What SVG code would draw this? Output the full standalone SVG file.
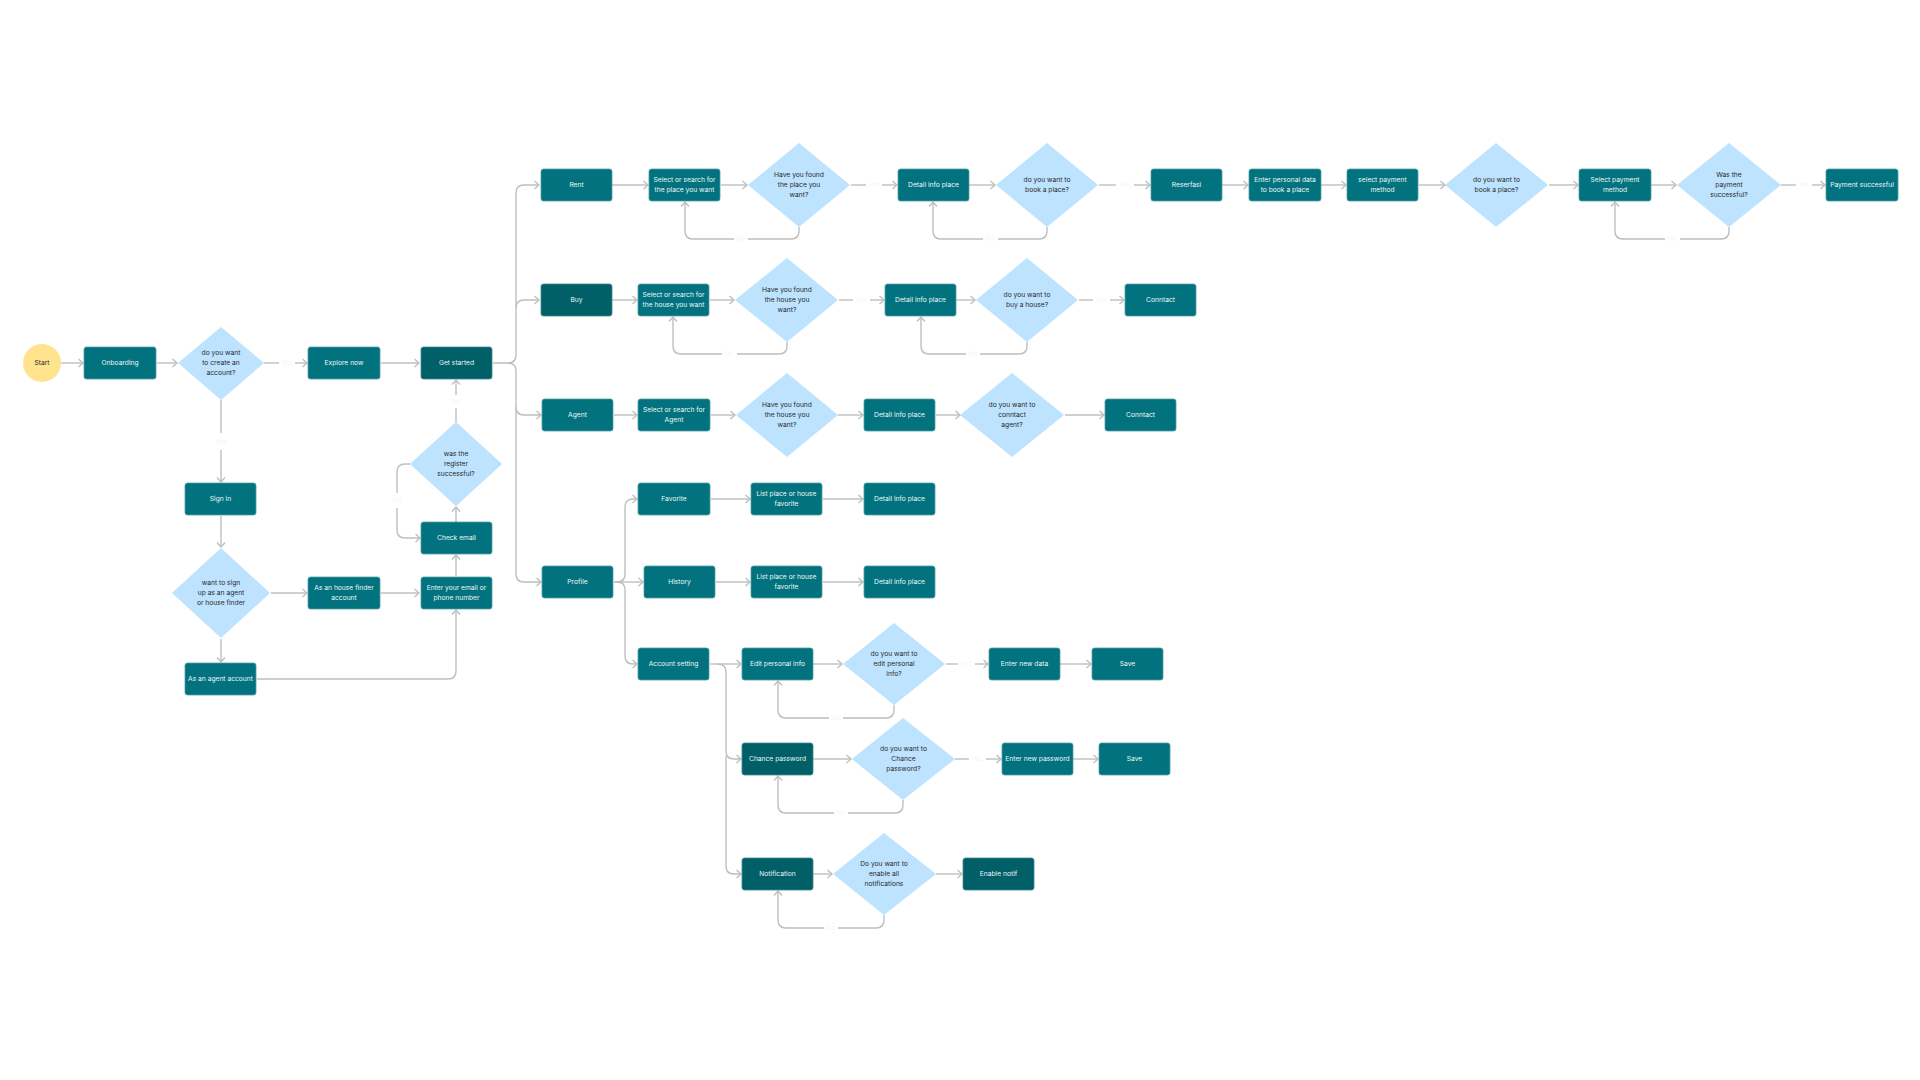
<svg xmlns="http://www.w3.org/2000/svg" width="1920" height="1080" viewBox="0 0 1920 1080">
<style>
text{font-family:Inter,"Liberation Sans",sans-serif;font-size:6.7px;text-anchor:middle;dominant-baseline:central}
.b rect{fill:#02737E;stroke:#4E9EA6;stroke-width:0.8}
.k rect{fill:#005F67;stroke:#3F8B92;stroke-width:0.8}
.b text,.k text{fill:#EEF6F7}
.d polygon{fill:#BDE3FF}
.d text{fill:#2A2A2A}
.c path{fill:none;stroke:#BFBFBF;stroke-width:1.4}
.c path.a{marker-end:url(#ar)}
.lb{fill:#F8F5F5;font-size:6.5px}
</style>
<defs>
<marker id="ar" markerUnits="userSpaceOnUse" markerWidth="12" markerHeight="12" refX="5.5" refY="5" orient="auto">
<path d="M1,1 L5.5,5 L1,9" fill="none" stroke="#BFBFBF" stroke-width="1.4"/>
</marker>
</defs>
<rect width="1920" height="1080" fill="#FFFFFF"/>

<g class="c" id="connectors">
<!-- left -->
<path class="a" d="M61,363 H83"/>
<path class="a" d="M157,363 H177"/>
<path d="M264,363 H279"/>
<path class="a" d="M295,363 H307"/>
<path class="a" d="M381,363 H419"/>
<path d="M221,400 V433"/>
<path class="a" d="M221,450 V482"/>
<path class="a" d="M221,516 V547"/>
<path class="a" d="M271,593 H307"/>
<path class="a" d="M381,593 H419"/>
<path class="a" d="M221,639 V662"/>
<path class="a" d="M257,679 H448 Q456,679 456,671 V610"/>
<path class="a" d="M456,576 V555"/>
<path class="a" d="M456,522 V507"/>
<path d="M456,422 V408"/>
<path class="a" d="M456,395 V380"/>
<path d="M410,464 H405 Q397,464 397,472 V493"/>
<path class="a" d="M397,508 V530 Q397,538 405,538 H420"/>
<!-- trunk from Get started -->
<path class="a" d="M493,363 H508 Q516,363 516,355 V193 Q516,185 524,185 H539"/>
<path class="a" d="M516,308 Q516,300 524,300 H539"/>
<path class="a" d="M508,363 Q516,363 516,371 V574 Q516,582 524,582 H541"/>
<path class="a" d="M516,407 Q516,415 524,415 H541"/>
<!-- rent row -->
<path class="a" d="M612,185 H648"/>
<path class="a" d="M721,185 H747"/>
<path d="M851,185 H866"/>
<path class="a" d="M882,185 H897"/>
<path d="M799,227 V231 Q799,239 791,239 H748"/>
<path class="a" d="M734,239 H693 Q685,239 685,231 V202"/>
<path class="a" d="M969,185 H995"/>
<path d="M1099,185 H1116"/>
<path class="a" d="M1134,185 H1150"/>
<path d="M1047,227 V231 Q1047,239 1039,239 H998"/>
<path class="a" d="M983,239 H941 Q933,239 933,231 V202"/>
<path class="a" d="M1222,185 H1248"/>
<path class="a" d="M1321,185 H1346"/>
<path class="a" d="M1419,185 H1445"/>
<path class="a" d="M1549,185 H1578"/>
<path class="a" d="M1651,185 H1676"/>
<path d="M1781,185 H1796"/>
<path class="a" d="M1812,185 H1825"/>
<path d="M1729,227 V231 Q1729,239 1721,239 H1680"/>
<path class="a" d="M1665,239 H1623 Q1615,239 1615,231 V202"/>
<!-- buy row -->
<path class="a" d="M612,300 H637"/>
<path class="a" d="M710,300 H734"/>
<path d="M839,300 H853"/>
<path class="a" d="M870,300 H884"/>
<path d="M787,342 V346 Q787,354 779,354 H737"/>
<path class="a" d="M722,354 H681 Q673,354 673,346 V317"/>
<path class="a" d="M956,300 H975"/>
<path d="M1079,300 H1093"/>
<path class="a" d="M1110,300 H1124"/>
<path d="M1027,342 V346 Q1027,354 1019,354 H980"/>
<path class="a" d="M966,354 H929 Q921,354 921,346 V317"/>
<!-- agent row -->
<path class="a" d="M614,415 H637"/>
<path class="a" d="M711,415 H735"/>
<path class="a" d="M838,415 H863"/>
<path class="a" d="M936,415 H960"/>
<path class="a" d="M1065,415 H1104"/>
<!-- profile -->
<path class="a" d="M614,582 H617 Q625,582 625,574 V507 Q625,499 633,499 H637"/>
<path class="a" d="M614,582 H643"/>
<path class="a" d="M617,582 Q625,582 625,590 V656 Q625,664 633,664 H637"/>
<path class="a" d="M711,499 H750"/>
<path class="a" d="M823,499 H863"/>
<path class="a" d="M716,582 H750"/>
<path class="a" d="M823,582 H863"/>
<!-- account setting -->
<path class="a" d="M710,664 H741"/>
<path class="a" d="M718,664 Q726,664 726,672 V751 Q726,759 734,759 H741"/>
<path class="a" d="M726,756 V866 Q726,874 734,874 H741"/>
<path class="a" d="M813,664 H842"/>
<path d="M946,664 H958"/>
<path class="a" d="M975,664 H988"/>
<path class="a" d="M1060,664 H1091"/>
<path d="M894,705 V710 Q894,718 886,718 H843"/>
<path class="a" d="M829,718 H786 Q778,718 778,710 V681"/>
<path class="a" d="M813,759 H851"/>
<path d="M955,759 H969"/>
<path class="a" d="M986,759 H1001"/>
<path class="a" d="M1073,759 H1098"/>
<path d="M903,800 V805 Q903,813 895,813 H848"/>
<path class="a" d="M834,813 H786 Q778,813 778,805 V776"/>
<path class="a" d="M813,874 H832"/>
<path class="a" d="M936,874 H962"/>
<path d="M884,915 V920 Q884,928 876,928 H838"/>
<path class="a" d="M824,928 H786 Q778,928 778,920 V891"/>
</g>

<g id="labels">
<text class="lb" x="287" y="363">No</text>
<text class="lb" x="221" y="442">Yes</text>
<text class="lb" x="456" y="401">Yes</text>
<text class="lb" x="397" y="500">No</text>
<text class="lb" x="874" y="185">Yes</text>
<text class="lb" x="741" y="239">No</text>
<text class="lb" x="1125" y="185">Yes</text>
<text class="lb" x="990" y="239">No</text>
<text class="lb" x="1804" y="185">Yes</text>
<text class="lb" x="1672" y="239">No</text>
<text class="lb" x="861" y="300">Yes</text>
<text class="lb" x="729" y="354">No</text>
<text class="lb" x="1101" y="300">Yes</text>
<text class="lb" x="973" y="354">No</text>
<text class="lb" x="966" y="664">Yes</text>
<text class="lb" x="836" y="718">No</text>
<text class="lb" x="977" y="759">Yes</text>
<text class="lb" x="841" y="813">No</text>
<text class="lb" x="831" y="928">No</text>
</g>

<g id="start"><circle cx="42" cy="363" r="19" fill="#FFE38D"/><text x="42" y="363" fill="#2A2A2A">Start</text></g>
<g id="onboarding" class="b"><rect x="84" y="347" width="72" height="32" rx="2.5"/><text x="120" y="363">Onboarding</text></g>
<g id="q-create" class="d"><polygon points="221,327 264,363 221,400 178,363"/><text x="221" y="353.3">do you want</text><text x="221" y="363">to create an</text><text x="221" y="372.7">account?</text></g>
<g id="explore" class="b"><rect x="308" y="347" width="72" height="32" rx="2.5"/><text x="344" y="363">Explore now</text></g>
<g id="get-started" class="k"><rect x="421" y="347" width="71" height="32" rx="2.5"/><text x="456.5" y="363">Get started</text></g>
<g id="sign-in" class="b"><rect x="185" y="483" width="71" height="32" rx="2.5"/><text x="220.5" y="499">Sign in</text></g>
<g id="q-signup" class="d"><polygon points="221,548 270,593 221,638 172,593"/><text x="221" y="583.3">want to sign</text><text x="221" y="593">up as an agent</text><text x="221" y="602.7">or house finder</text></g>
<g id="house-finder" class="b"><rect x="308" y="577" width="72" height="32" rx="2.5"/><text x="344" y="588.2">As an house finder</text><text x="344" y="597.8">account</text></g>
<g id="enter-email" class="b"><rect x="421" y="577" width="71" height="32" rx="2.5"/><text x="456.5" y="588.2">Enter your email or</text><text x="456.5" y="597.8">phone number</text></g>
<g id="check-email" class="b"><rect x="421" y="522" width="71" height="32" rx="2.5"/><text x="456.5" y="538">Check email</text></g>
<g id="q-register" class="d"><polygon points="456,422 502,464 456,506 410,464"/><text x="456" y="454.3">was the</text><text x="456" y="464">register</text><text x="456" y="473.7">successful?</text></g>
<g id="agent-account" class="b"><rect x="185" y="663" width="71" height="32" rx="2.5"/><text x="220.5" y="679">As an agent account</text></g>

<g id="rent" class="b"><rect x="541" y="169" width="71" height="32" rx="2.5"/><text x="576.5" y="185">Rent</text></g>
<g id="rent-select" class="b"><rect x="649" y="169" width="71" height="32" rx="2.5"/><text x="684.5" y="180.2">Select or search for</text><text x="684.5" y="189.8">the place you want</text></g>
<g id="rent-q-found" class="d"><polygon points="799,143 850,185 799,227 748,185"/><text x="799" y="175.3">Have you found</text><text x="799" y="185">the place you</text><text x="799" y="194.7">want?</text></g>
<g id="rent-detail" class="b"><rect x="898" y="169" width="71" height="32" rx="2.5"/><text x="933.5" y="185">Detail info place</text></g>
<g id="rent-q-book" class="d"><polygon points="1047,143 1098,185 1047,227 996,185"/><text x="1047" y="180.2">do you want to</text><text x="1047" y="189.8">book a place?</text></g>
<g id="reserfasi" class="b"><rect x="1151" y="169" width="71" height="32" rx="2.5"/><text x="1186.5" y="185">Reserfasi</text></g>
<g id="personal-data" class="b"><rect x="1249" y="169" width="72" height="32" rx="2.5"/><text x="1285" y="180.2">Enter personal data</text><text x="1285" y="189.8">to book a place</text></g>
<g id="select-payment-1" class="b"><rect x="1347" y="169" width="71" height="32" rx="2.5"/><text x="1382.5" y="180.2">select payment</text><text x="1382.5" y="189.8">method</text></g>
<g id="rent-q-book-2" class="d"><polygon points="1496,143 1548,185 1496,227 1445,185"/><text x="1496.5" y="180.2">do you want to</text><text x="1496.5" y="189.8">book a place?</text></g>
<g id="select-payment-2" class="b"><rect x="1579" y="169" width="72" height="32" rx="2.5"/><text x="1615" y="180.2">Select payment</text><text x="1615" y="189.8">method</text></g>
<g id="q-payment" class="d"><polygon points="1729,143 1781,185 1729,227 1677,185"/><text x="1729" y="175.3">Was the</text><text x="1729" y="185">payment</text><text x="1729" y="194.7">successful?</text></g>
<g id="payment-success" class="b"><rect x="1826" y="169" width="72" height="32" rx="2.5"/><text x="1862" y="185">Payment successful</text></g>

<g id="buy" class="k"><rect x="541" y="284" width="71" height="32" rx="2.5"/><text x="576.5" y="300">Buy</text></g>
<g id="buy-select" class="b"><rect x="638" y="284" width="71" height="32" rx="2.5"/><text x="673.5" y="295.2">Select or search for</text><text x="673.5" y="304.8">the house you want</text></g>
<g id="buy-q-found" class="d"><polygon points="787,258 838,300 787,342 735,300"/><text x="787" y="290.3">Have you found</text><text x="787" y="300">the house you</text><text x="787" y="309.7">want?</text></g>
<g id="buy-detail" class="b"><rect x="885" y="284" width="71" height="32" rx="2.5"/><text x="920.5" y="300">Detail info place</text></g>
<g id="buy-q-buy" class="d"><polygon points="1027,258 1078,300 1027,342 976,300"/><text x="1027" y="295.2">do you want to</text><text x="1027" y="304.8">buy a house?</text></g>
<g id="buy-contact" class="b"><rect x="1125" y="284" width="71" height="32" rx="2.5"/><text x="1160.5" y="300">Conntact</text></g>

<g id="agent" class="b"><rect x="542" y="399" width="71" height="32" rx="2.5"/><text x="577.5" y="415">Agent</text></g>
<g id="agent-select" class="b"><rect x="638" y="399" width="72" height="32" rx="2.5"/><text x="674" y="410.2">Select or search for</text><text x="674" y="419.8">Agent</text></g>
<g id="agent-q-found" class="d"><polygon points="787,373 838,415 787,457 736,415"/><text x="787" y="405.3">Have you found</text><text x="787" y="415">the house you</text><text x="787" y="424.7">want?</text></g>
<g id="agent-detail" class="b"><rect x="864" y="399" width="71" height="32" rx="2.5"/><text x="899.5" y="415">Detail info place</text></g>
<g id="agent-q-contact" class="d"><polygon points="1012,373 1064,415 1012,457 960,415"/><text x="1012" y="405.3">do you want to</text><text x="1012" y="415">conntact</text><text x="1012" y="424.7">agent?</text></g>
<g id="agent-contact" class="b"><rect x="1105" y="399" width="71" height="32" rx="2.5"/><text x="1140.5" y="415">Conntact</text></g>

<g id="favorite" class="b"><rect x="638" y="483" width="72" height="32" rx="2.5"/><text x="674" y="499">Favorite</text></g>
<g id="favorite-list" class="b"><rect x="751" y="483" width="71" height="32" rx="2.5"/><text x="786.5" y="494.2">List place or house</text><text x="786.5" y="503.8">favorite</text></g>
<g id="favorite-detail" class="b"><rect x="864" y="483" width="71" height="32" rx="2.5"/><text x="899.5" y="499">Detail info place</text></g>
<g id="profile" class="b"><rect x="542" y="566" width="71" height="32" rx="2.5"/><text x="577.5" y="582">Profile</text></g>
<g id="history" class="b"><rect x="644" y="566" width="71" height="32" rx="2.5"/><text x="679.5" y="582">History</text></g>
<g id="history-list" class="b"><rect x="751" y="566" width="71" height="32" rx="2.5"/><text x="786.5" y="577.2">List place or house</text><text x="786.5" y="586.8">favorite</text></g>
<g id="history-detail" class="b"><rect x="864" y="566" width="71" height="32" rx="2.5"/><text x="899.5" y="582">Detail info place</text></g>

<g id="account-setting" class="b"><rect x="638" y="648" width="71" height="32" rx="2.5"/><text x="673.5" y="664">Account setting</text></g>
<g id="edit-info" class="b"><rect x="742" y="648" width="71" height="32" rx="2.5"/><text x="777.5" y="664">Edit personal info</text></g>
<g id="q-edit" class="d"><polygon points="894,623 945,664 894,705 843,664"/><text x="894" y="654.3">do you want to</text><text x="894" y="664">edit personal</text><text x="894" y="673.7">info?</text></g>
<g id="new-data" class="b"><rect x="989" y="648" width="71" height="32" rx="2.5"/><text x="1024.5" y="664">Enter new data</text></g>
<g id="save-data" class="b"><rect x="1092" y="648" width="71" height="32" rx="2.5"/><text x="1127.5" y="664">Save</text></g>
<g id="change-password" class="k"><rect x="742" y="743" width="71" height="32" rx="2.5"/><text x="777.5" y="759">Chance password</text></g>
<g id="q-password" class="d"><polygon points="903,718 955,759 903,800 852,759"/><text x="903.5" y="749.3">do you want to</text><text x="903.5" y="759">Chance</text><text x="903.5" y="768.7">password?</text></g>
<g id="new-password" class="b"><rect x="1002" y="743" width="71" height="32" rx="2.5"/><text x="1037.5" y="759">Enter new password</text></g>
<g id="save-password" class="b"><rect x="1099" y="743" width="71" height="32" rx="2.5"/><text x="1134.5" y="759">Save</text></g>
<g id="notification" class="k"><rect x="742" y="858" width="71" height="32" rx="2.5"/><text x="777.5" y="874">Notification</text></g>
<g id="q-notif" class="d"><polygon points="884,833 936,874 884,915 833,874"/><text x="884" y="864.3">Do you want to</text><text x="884" y="874">enable all</text><text x="884" y="883.7">notifications</text></g>
<g id="enable-notif" class="k"><rect x="963" y="858" width="71" height="32" rx="2.5"/><text x="998.5" y="874" fill="#D8E6E8">Enable notif</text></g>
</svg>
